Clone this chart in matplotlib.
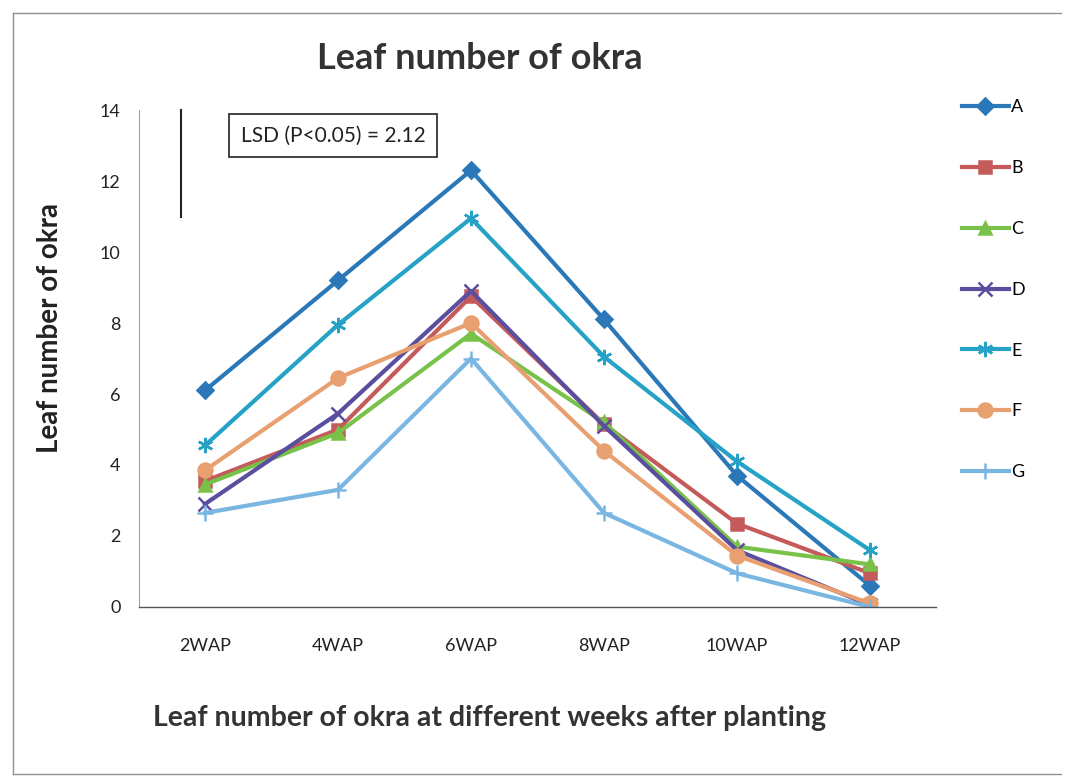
import matplotlib.pyplot as plt
from matplotlib.lines import Line2D

plt.rcParams['font.family'] = ['Lato', 'DejaVu Sans']

weeks = ["2WAP", "4WAP", "6WAP", "8WAP", "10WAP", "12WAP"]
trt_a = [6.1, 9.2, 12.3, 8.1, 3.7, 0.6]
trt_b = [3.55, 5.0, 8.75, 5.15, 2.35, 0.95]
trt_c = [3.45, 4.9, 7.7, 5.2, 1.7, 1.2]
trt_d = [2.9, 5.45, 8.9, 5.1, 1.6, 0.05]
trt_e = [4.55, 7.95, 10.95, 7.05, 4.1, 1.6]
trt_f = [3.85, 6.45, 8.0, 4.4, 1.45, 0.1]
trt_g = [2.65, 3.3, 7.0, 2.65, 0.95, 0.0]
labels = ["A", "B", "C", "D", "E", "F", "G"]
lsd_text = "LSD (P<0.05) = 2.12"

series = [trt_a, trt_b, trt_c, trt_d, trt_e, trt_f, trt_g]
colors = ['#2a78b8', '#c55a5a', '#78c24a', '#5a4f9e', '#25a2c6', '#e8a070', '#7ab6e2']
markers = ['D', 's', '^', 'x', (6, 2, 0), 'o', '+']
msizes = [8, 9, 9, 10, 11, 10, 11]

fig = plt.figure(figsize=(10.72, 7.78), dpi=100)
ax = fig.add_axes([0.1292, 0.2198, 0.7444, 0.6388])

x = list(range(len(weeks)))
for vals, lab, c, m, ms in zip(series, labels, colors, markers, msizes):
    ax.plot(x, vals, color=c, marker=m, markersize=ms, linewidth=3,
            markeredgewidth=1.8, label=lab)

ax.set_xlim(-0.5, 5.5)
ax.set_ylim(0, 14)
ax.set_yticks(range(0, 15, 2))
ax.set_xticks(x)
ax.set_xticklabels(weeks)
ax.tick_params(axis='both', length=0, labelsize=13, colors='#222222')
ax.tick_params(axis='x', pad=22)
ax.tick_params(axis='y', pad=13)
for s in ['top', 'right']:
    ax.spines[s].set_visible(False)
ax.spines['left'].set_color('#9aa4a8')
ax.spines['left'].set_linewidth(0.8)
ax.spines['bottom'].set_color('#555555')
ax.spines['bottom'].set_linewidth(1.0)

# LSD bar and note
ax.plot([-0.18, -0.18], [14, 11], color='#222222', linewidth=1.5, clip_on=False)
ax.text(0.244, 0.948, lsd_text, transform=ax.transAxes, ha='center', va='center',
        fontsize=15, color='#222222',
        bbox=dict(boxstyle='square,pad=0.55', facecolor='white', edgecolor='#222222', linewidth=1.2))

fig.text(0.448, 0.925, "Leaf number of okra", ha='center', va='center',
         fontsize=26, fontweight='bold', color='#333333')
fig.text(0.047, 0.578, "Leaf number of okra", ha='center', va='center', rotation=90,
         fontsize=20, fontweight='bold', color='#222222')
fig.text(0.457, 0.077, "Leaf number of okra at different weeks after planting",
         ha='center', va='center', fontsize=20.5, fontweight='bold', color='#333333')

leg = fig.legend(loc='upper left', bbox_to_anchor=(0.882, 0.893), frameon=False,
                 fontsize=13, handlelength=2.6, handletextpad=0.15, labelspacing=2.48)

# scan border
fig.add_artist(Line2D([0.012, 0.012], [0.005, 0.983], color='#8a9496', linewidth=1))
fig.add_artist(Line2D([0.012, 0.99], [0.983, 0.983], color='#8a9496', linewidth=1))
fig.add_artist(Line2D([0.012, 0.99], [0.005, 0.005], color='#8a9496', linewidth=1))

fig.savefig("out.png", dpi=100)
